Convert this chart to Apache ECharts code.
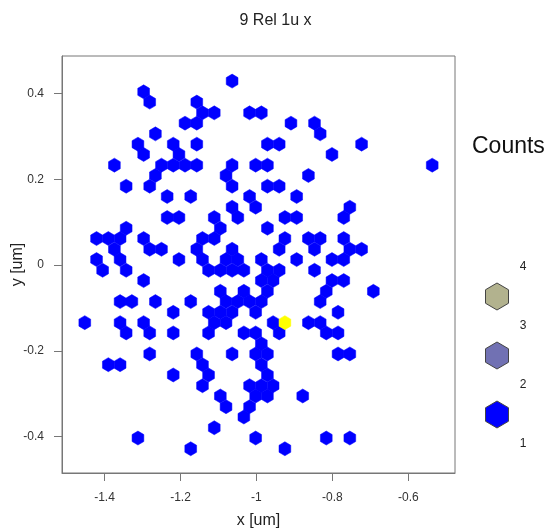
<!DOCTYPE html>
<html><head><meta charset="utf-8">
<script src="https://cdn.jsdelivr.net/npm/echarts@6/dist/echarts.min.js"></script>
<style>html,body{margin:0;padding:0;background:#fff}#c{width:551px;height:532px}</style>
</head><body><div id="c"></div>
<script>
// ---- data ----
const titleText = '9 Rel 1u x';
const xName = 'x [um]';
const yName = 'y [um]';
const xTicks = [-1.4, -1.2, -1, -0.8, -0.6];
const yTicks = [-0.4, -0.2, 0, 0.2, 0.4];
// hex-cell centres with count 1, grouped by row (rowY[i] is the y of row i)
const rowY = [0.429, 0.404, 0.380, 0.355, 0.331, 0.306, 0.282, 0.258, 0.233, 0.209, 0.184, 0.160,
  0.135, 0.111, 0.086, 0.062, 0.037, 0.013, -0.012, -0.036, -0.061, -0.085, -0.110, -0.134,
  -0.158, -0.183, -0.207, -0.232, -0.256, -0.281, -0.305, -0.330, -0.354, -0.379, -0.403, -0.428];
const rowX = [
  [-1.064],
  [-1.297],
  [-1.281, -1.157],
  [-1.142, -1.111, -1.018, -0.987],
  [-1.188, -1.157, -0.909, -0.847],
  [-1.266, -0.832],
  [-1.312, -1.219, -1.157, -0.971, -0.940, -0.723],
  [-1.297, -1.204, -0.801],
  [-1.374, -1.250, -1.219, -1.188, -1.157, -1.064, -1.002, -0.971, -0.537],
  [-1.266, -1.080, -0.863],
  [-1.343, -1.281, -1.064, -0.971, -0.940],
  [-1.235, -1.173, -1.018, -0.894],
  [-1.064, -1.002, -0.754],
  [-1.235, -1.204, -1.111, -1.049, -0.925, -0.894, -0.770],
  [-1.343, -1.095, -0.971],
  [-1.421, -1.390, -1.359, -1.297, -1.142, -1.111, -0.925, -0.863, -0.832, -0.770],
  [-1.374, -1.281, -1.250, -1.157, -1.064, -0.940, -0.847, -0.754, -0.723],
  [-1.421, -1.359, -1.204, -1.142, -1.080, -1.049, -0.987, -0.894, -0.801, -0.770],
  [-1.405, -1.343, -1.126, -1.095, -1.064, -1.033, -0.971, -0.940, -0.847],
  [-1.297, -0.987, -0.956, -0.801, -0.770],
  [-1.095, -1.033, -0.971, -0.816, -0.692],
  [-1.359, -1.328, -1.266, -1.173, -1.080, -1.049, -1.018, -0.987, -0.832],
  [-1.219, -1.126, -1.095, -1.064, -1.002, -0.785],
  [-1.452, -1.359, -1.297, -1.111, -1.080, -0.956, -0.863, -0.832],
  [-1.343, -1.281, -1.219, -1.126, -1.033, -1.002, -0.940, -0.816, -0.785],
  [-0.987],
  [-1.281, -1.157, -1.064, -1.002, -0.971, -0.785, -0.754],
  [-1.390, -1.359, -1.142, -0.987],
  [-1.219, -1.126, -0.971],
  [-1.142, -1.018, -0.987, -0.956],
  [-1.095, -1.002, -0.971, -0.878],
  [-1.080, -1.018],
  [-1.033],
  [-1.111],
  [-1.312, -1.002, -0.816, -0.754],
  [-1.173, -0.925]
];
// the single high-count cell
const peakX = [-0.925];
const peakY = [-0.134];
const peakCount = [4];
// legend
const legendTitle = 'Counts';
const legendLabels = ['4', '3', '2', '1'];
const legendColors = ['#B2B28E', '#7171B3', '#0000FF'];

// ---- layout / style constants ----
const BIN_W = 0.031;     // horizontal spacing of hex centres (data units)
const BIN_H = 0.02447;   // vertical spacing of hex rows (data units)
const FONT = 'Liberation Sans, Arial, Helvetica, sans-serif';

const oneData = [];
rowX.forEach((xs, i) => xs.forEach(x => oneData.push([x, rowY[i], 1])));
const peakData = peakX.map((x, i) => [x, peakY[i], peakCount[i]]);

function hexItem(params, api) {
  const c = api.coord([api.value(0), api.value(1)]);
  const s = api.size([BIN_W, BIN_H]);
  const hw = s[0] / 2, r = s[1] / 1.5;
  const pts = [[c[0], c[1] - r], [c[0] + hw, c[1] - r / 2], [c[0] + hw, c[1] + r / 2],
    [c[0], c[1] + r], [c[0] - hw, c[1] + r / 2], [c[0] - hw, c[1] - r / 2]];
  const col = api.visual('color');
  return { type: 'polygon', shape: { points: pts }, style: { fill: col, stroke: col, lineWidth: 0.5 } };
}

function legendHex(cx, cy, w, h) {
  return [[cx, cy - h / 2], [cx + w / 2, cy - h / 4], [cx + w / 2, cy + h / 4],
    [cx, cy + h / 2], [cx - w / 2, cy + h / 4], [cx - w / 2, cy - h / 4]];
}

const graphics = [
  { type: 'text', x: 472, y: 147, style: { text: legendTitle, font: '23px ' + FONT, fill: '#111', verticalAlign: 'middle' } }
];
legendLabels.forEach((t, i) => {
  graphics.push({ type: 'text', x: 523, y: 267 + i * 59, style: { text: t, font: '12px ' + FONT, fill: '#222', align: 'center', verticalAlign: 'middle' } });
});
legendColors.forEach((c, i) => {
  graphics.push({ type: 'polygon', shape: { points: legendHex(497, 296.5 + i * 59, 23, 27) },
    style: { fill: c, stroke: '#444', lineWidth: 1 } });
});

const chart = echarts.init(document.getElementById('c'), null, { renderer: 'canvas' });
chart.setOption({
  animation: false,
  backgroundColor: '#fff',
  title: { text: titleText, left: 'center', top: 8, textStyle: { fontFamily: FONT, fontSize: 16, fontWeight: 'normal', color: '#222' } },
  grid: { left: 62, right: 96, top: 56, bottom: 59, containLabel: false, outerBoundsMode: 'none',
    show: true, borderColor: '#777', borderWidth: 1, backgroundColor: 'transparent' },
  xAxis: {
    type: 'value', min: -1.512, max: -0.477,
    name: xName, nameLocation: 'middle', nameGap: 40, nameMoveOverlap: false,
    nameTextStyle: { fontFamily: FONT, fontSize: 16, color: '#222' },
    axisLine: { show: true, onZero: false, lineStyle: { color: '#777' } },
    axisTick: { show: true, length: 8, customValues: xTicks, lineStyle: { color: '#777' } },
    axisLabel: { customValues: xTicks, margin: 19, fontFamily: FONT, fontSize: 12, color: '#333', formatter: v => String(v) },
    splitLine: { show: false }
  },
  yAxis: {
    type: 'value', min: -0.4845, max: 0.4875,
    name: yName, nameLocation: 'middle', nameGap: 36, nameMoveOverlap: false,
    nameTextStyle: { fontFamily: FONT, fontSize: 16, color: '#222' },
    axisLine: { show: true, onZero: false, lineStyle: { color: '#777' } },
    axisTick: { show: true, length: 8, customValues: yTicks, lineStyle: { color: '#777' } },
    axisLabel: { customValues: yTicks, margin: 18, fontFamily: FONT, fontSize: 12, color: '#333', formatter: v => String(v) },
    splitLine: { show: false }
  },
  series: [
    { type: 'custom', renderItem: hexItem, data: oneData, itemStyle: { color: '#0000FF' }, encode: { x: 0, y: 1 } },
    { type: 'custom', renderItem: hexItem, data: peakData, itemStyle: { color: '#FFFF00' }, encode: { x: 0, y: 1 } }
  ],
  graphic: graphics
});
</script>
</body></html>
